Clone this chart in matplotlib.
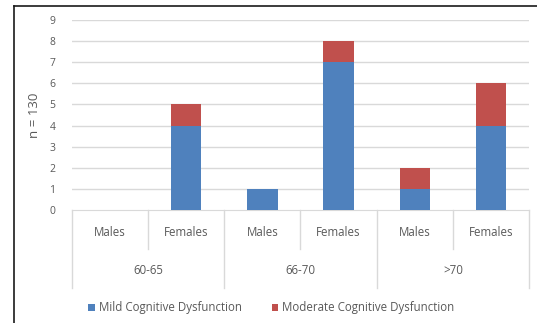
import matplotlib

matplotlib.use("Agg")

import matplotlib.pyplot as plt
import matplotlib.transforms as mtransforms
from matplotlib.lines import Line2D
from matplotlib.patches import Patch

AGE_GROUPS = ["60-65", "66-70", ">70"]
SEXES = ["Males", "Females"]
MILD = [0, 4, 1, 7, 1, 4]
MODERATE = [0, 1, 0, 1, 1, 2]
Y_TICKS = list(range(0, 10))

BLUE = "#4F81BD"
RED = "#C0504D"
TEXT_GREY = "#595959"
GRID_GREY = "#D9D9D9"
FONT = ["Open Sans", "DejaVu Sans"]
LABEL_SIZE = 8.3

plt.rcParams["font.family"] = FONT

fig = plt.figure(figsize=(5.37, 3.23), dpi=100)
ax = fig.add_axes([72 / 537, 1 - 210 / 323, (529 - 72) / 537, (210 - 20) / 323])

n_bars = len(MILD)
positions = list(range(n_bars))
ax.bar(positions, MILD, width=0.4, color=BLUE, zorder=3)
ax.bar(positions, MODERATE, width=0.4, bottom=MILD, color=RED, zorder=3)

ax.set_xlim(-0.5, n_bars - 0.5)
ax.set_ylim(0, 9)
ax.set_yticks(Y_TICKS)
ax.set_xticks([])
ax.tick_params(axis="y", length=0, labelsize=7.5, colors=TEXT_GREY, pad=12)
for y in Y_TICKS[1:]:
    ax.axhline(y, color=GRID_GREY, lw=1.0, zorder=1)
for side in ["top", "right", "left"]:
    ax.spines[side].set_visible(False)
ax.spines["bottom"].set_color(GRID_GREY)
ax.set_ylabel("n = 130", fontsize=9.5, color=TEXT_GREY, labelpad=6)

# two-row category table under the axis
trans = mtransforms.blended_transform_factory(ax.transData, ax.transAxes)
unit = 190.0
row1_bottom = -(249 - 210) / unit
row2_bottom = -(288 - 210) / unit
row1_text = -(232 - 210) / unit
row2_text = -(271 - 210) / unit

for i in range(n_bars + 1):
    x = i - 0.5
    bottom = row2_bottom if i % 2 == 0 else row1_bottom
    ax.add_line(Line2D([x, x], [0, bottom], transform=trans, color=GRID_GREY,
                       lw=1.0, clip_on=False))

for i in range(n_bars):
    ax.text(i, row1_text, SEXES[i % 2], transform=trans, ha="center", va="center",
            fontsize=LABEL_SIZE, color=TEXT_GREY)
for g, name in enumerate(AGE_GROUPS):
    ax.text(2 * g + 0.5, row2_text, name, transform=trans, ha="center", va="center",
            fontsize=LABEL_SIZE, color=TEXT_GREY)

handles = [
    Patch(facecolor=BLUE, label="Mild Cognitive Dysfunction"),
    Patch(facecolor=RED, label="Moderate Cognitive Dysfunction"),
]
leg = fig.legend(handles=handles, loc="center", bbox_to_anchor=(0.505, 1 - 308 / 323),
                 ncol=2, frameon=False, fontsize=LABEL_SIZE, handlelength=0.6, handleheight=0.6,
                 handletextpad=0.3, columnspacing=2.6)
for t in leg.get_texts():
    t.set_color(TEXT_GREY)

# outer frame, top and left edges
fig.add_artist(Line2D([14 / 537, 1.0], [1 - 6 / 323, 1 - 6 / 323], transform=fig.transFigure,
                      color="#1a1a1a", lw=1.2))
fig.add_artist(Line2D([14 / 537, 14 / 537], [0.0, 1 - 6 / 323], transform=fig.transFigure,
                      color="#1a1a1a", lw=1.2))

fig.savefig("out.png", dpi=100, facecolor="white")
